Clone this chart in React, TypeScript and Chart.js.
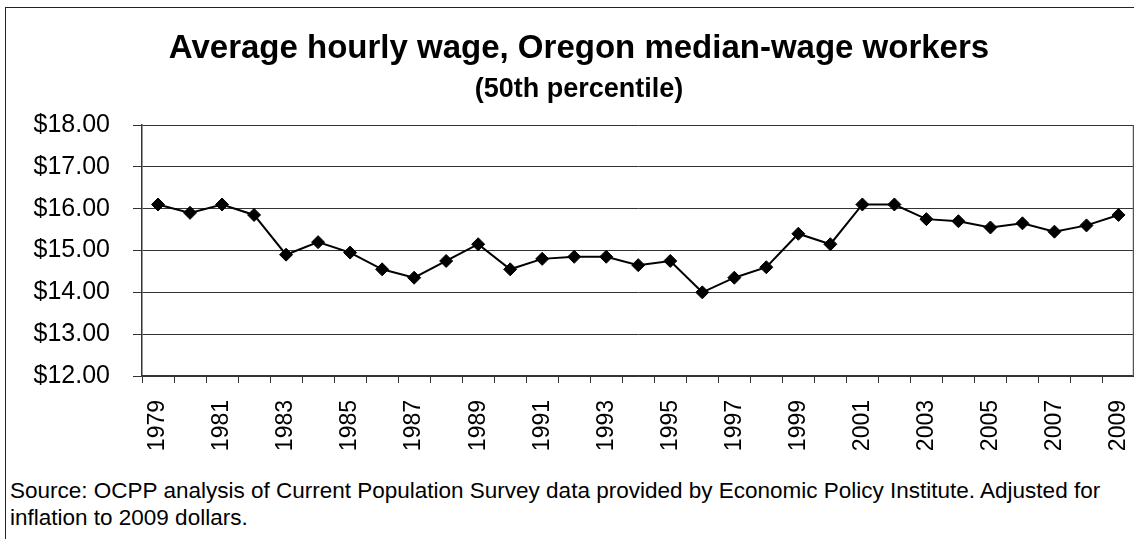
import React, { useEffect, useRef } from "react";
import { Chart, registerables } from "chart.js";

Chart.register(...registerables);

const years: string[] = [
  "1979", "1980", "1981", "1982", "1983", "1984", "1985", "1986", "1987", "1988",
  "1989", "1990", "1991", "1992", "1993", "1994", "1995", "1996", "1997", "1998",
  "1999", "2000", "2001", "2002", "2003", "2004", "2005", "2006", "2007", "2008", "2009",
];

const wages: number[] = [
  16.1, 15.9, 16.1, 15.85, 14.9, 15.2, 14.95, 14.55, 14.35, 14.75,
  15.15, 14.55, 14.8, 14.85, 14.85, 14.65, 14.75, 14.0, 14.35, 14.6,
  15.4, 15.15, 16.1, 16.1, 15.75, 15.7, 15.55, 15.65, 15.45, 15.6, 15.85,
];

const yMin = 12;
const yMax = 18;
const yStep = 1;

const titleText = "Average hourly wage, Oregon median-wage workers";
const subtitleText = "(50th percentile)";
const sourceLine1 =
  "Source: OCPP analysis of Current Population Survey data provided by Economic Policy Institute. Adjusted for";
const sourceLine2 = "inflation to 2009 dollars.";

const FONT = "Arial, 'Liberation Sans', Helvetica, sans-serif";

const rightBorder = {
  id: "rightBorder",
  afterDraw(chart: any) {
    const { ctx, chartArea } = chart;
    ctx.save();
    ctx.strokeStyle = "#555";
    ctx.lineWidth = 1.5;
    ctx.beginPath();
    ctx.moveTo(chartArea.right - 1, chartArea.top);
    ctx.lineTo(chartArea.right - 1, chartArea.bottom);
    ctx.stroke();
    ctx.restore();
  },
};

export default function App() {
  const ref = useRef<HTMLCanvasElement | null>(null);

  useEffect(() => {
    if (!ref.current) return;
    const chart = new Chart(ref.current, {
      type: "line",
      data: {
        labels: years,
        datasets: [
          {
            data: wages,
            borderColor: "#000",
            borderWidth: 2,
            backgroundColor: "#000",
            pointStyle: "rectRot",
            pointRadius: 6.5,
            pointBorderWidth: 1,
            pointBorderColor: "#000",
            pointBackgroundColor: "#000",
            tension: 0,
            fill: false,
          },
        ],
      },
      options: {
        responsive: false,
        animation: false,
        devicePixelRatio: 1,
        layout: { padding: { top: 125, left: 0, right: 0, bottom: 0 } },
        plugins: {
          legend: { display: false },
          title: { display: false },
          tooltip: { enabled: false },
        },
        scales: {
          x: {
            type: "category",
            offset: true,
            grid: {
              offset: true,
              drawOnChartArea: false,
              drawTicks: true,
              tickLength: 7,
              color: "#333",
              lineWidth: 1,
            },
            border: { display: true, color: "#333", width: 1.5 },
            ticks: {
              autoSkip: false,
              minRotation: 90,
              maxRotation: 90,
              padding: 17,
              color: "#000",
              font: { family: FONT, size: 23 },
              callback: (_v: any, i: number) => (i % 2 === 0 ? years[i] : ""),
            },
            afterFit: (axis: any) => {
              axis.height = 90;
              axis.paddingLeft = 0;
              axis.paddingRight = 0;
            },
          },
          y: {
            min: yMin,
            max: yMax,
            grid: {
              color: "#333",
              lineWidth: 1,
              tickLength: 9,
              drawTicks: true,
            },
            border: { display: true, color: "#333", width: 1.5 },
            ticks: {
              stepSize: yStep,
              padding: 23,
              color: "#000",
              font: { family: FONT, size: 25 },
              callback: (v: any) => "$" + Number(v).toFixed(2),
            },
            afterFit: (axis: any) => {
              axis.width = 142;
            },
          },
        },
      },
      plugins: [rightBorder],
    });
    return () => chart.destroy();
  }, []);

  return (
    <div
      style={{
        position: "absolute",
        left: 0,
        top: 0,
        width: 1134,
        height: 539,
        overflow: "hidden",
        background: "#fff",
        fontFamily: FONT,
        color: "#000",
      }}
    >
      <div
        style={{
          position: "absolute",
          left: 5,
          top: 7,
          width: 1200,
          height: 600,
          border: "1px solid #222",
          boxSizing: "border-box",
        }}
      />
      <canvas
        ref={ref}
        width={1142}
        height={466}
        style={{ position: "absolute", left: 0, top: 0, display: "block" }}
      />
      <div
        style={{
          position: "absolute",
          left: 0,
          width: 1158,
          top: 30,
          textAlign: "center",
          fontWeight: "bold",
          fontSize: 33,
          lineHeight: "33px",
          whiteSpace: "nowrap",
        }}
      >
        {titleText}
      </div>
      <div
        style={{
          position: "absolute",
          left: 0,
          width: 1158,
          top: 75,
          textAlign: "center",
          fontWeight: "bold",
          fontSize: 27,
          lineHeight: "27px",
          whiteSpace: "nowrap",
        }}
      >
        {subtitleText}
      </div>
      <div
        style={{
          position: "absolute",
          left: 10,
          top: 477,
          fontSize: 22.5,
          lineHeight: "27px",
          whiteSpace: "nowrap",
        }}
      >
        <div>{sourceLine1}</div>
        <div>{sourceLine2}</div>
      </div>
    </div>
  );
}
